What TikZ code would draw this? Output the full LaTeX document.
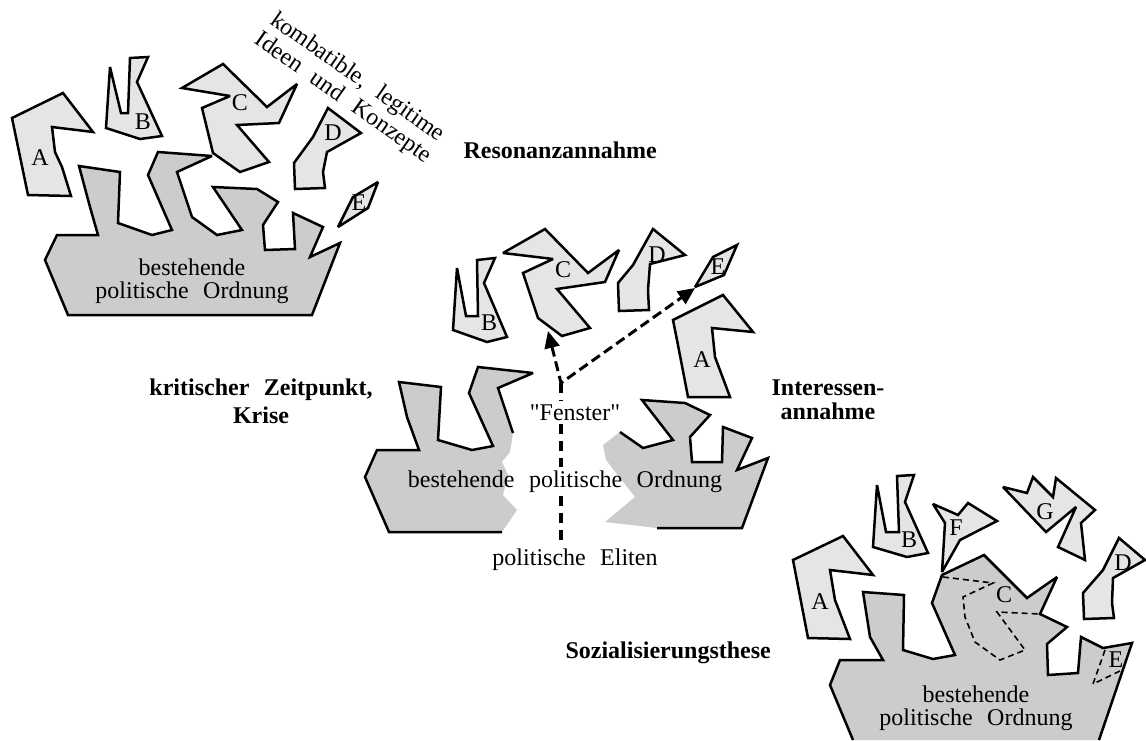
\documentclass[tikz,border=0pt]{standalone}
\usepackage{fontspec}
\setmainfont{Liberation Serif}[Ligatures=TeXOff]
\usetikzlibrary{arrows.meta}

\newcommand{\wsp}{\hspace{0.6em}}

\tikzset{
  stueck/.style={fill=black!10, draw=black, line width=2.5pt, miter limit=3},
  ordnung/.style={fill=black!20, draw=black, line width=2.5pt, miter limit=3},
  flaeche/.style={fill=black!20},
  rand/.style={draw=black, line width=2.5pt, miter limit=3},
  strich/.style={line width=3pt, dash pattern=on 10pt off 5pt},
  senkrecht/.style={line width=4pt, dash pattern=on 10pt off 7pt},
  kontur/.style={line width=1.6pt, dash pattern=on 6pt off 4pt},
  these/.style={font=\bfseries\fontsize{24}{24}\selectfont, align=center},
  buchst/.style={inner sep=0pt}
}

\begin{document}
\begin{tikzpicture}[x=1pt, y=-1pt, font=\fontsize{24}{23}\selectfont]

    \useasboundingbox (0,0) rectangle (1146,740);

    % Resonanzannahme (oben links)
    \filldraw[ordnung] (79,166) -- (120,172) -- (118,223) -- (152,235) -- (172,230) -- (148,175) -- (158,152) -- (212,156) -- (177,172) -- (192,217) -- (217,235) -- (242,230) -- (213,187) -- (257,189) -- (278,202) -- (263,225) -- (265,250) -- (295,249) -- (293,213) -- (323,227) -- (310,257) -- (340,243) -- (312,315) -- (68,315) -- (45,260) -- (57,235) -- (98,235) -- (90,207) -- cycle;
    \filldraw[stueck] (12,118) -- (63,93) -- (93,132) -- (52,127) -- (55,152) -- (62,167) -- (71,196) -- (28,195) -- cycle;
    \filldraw[stueck] (110,67) -- (121,113) -- (128,113) -- (130,58) -- (148,57) -- (137,82) -- (162,136) -- (140,139) -- (106,128) -- cycle;
    \filldraw[stueck] (182,88) -- (223,64) -- (267,107) -- (297,84) -- (279,123) -- (237,125) -- (269,162) -- (240,172) -- (213,153) -- (202,108) -- (230,96) -- cycle;
    \filldraw[stueck] (328,108) -- (361,133) -- (327,152) -- (323,172) -- (325,188) -- (295,189) -- (294,163) -- (313,137) -- cycle;
    \filldraw[stueck] (378,182) -- (368,208) -- (338,227) -- (353,197) -- cycle;
    \node[buchst] (a1) at (40,158) {A};
    \node[buchst] (b1) at (143,122) {B};
    \node[buchst] (c1) at (240,103) {C};
    \node[buchst] (d1) at (333,133) {D};
    \node[buchst] (e1) at (359,203) {E};
    \node[anchor=base, align=center] (ord1) at (192,298) {bestehende\\politische\wsp Ordnung};
    \node[rotate=-35, align=center] (ideen) at (350,88) {kombatible,\wsp legitime\\[2pt]Ideen\wsp und\wsp Konzepte};
    \node[these, anchor=base west] (reso) at (460,158) {Resonanzannahme};

    % Interessenannahme (Mitte)
    \fill[flaeche] (502,532) -- (389,532) -- (365,477) -- (377,450) -- (419,450) -- (407,417) -- (399,382) -- (441,387) -- (438,440) -- (472,450) -- (493,446) -- (469,393) -- (478,367) -- (533,373) -- (498,388) -- (513,433) -- (510,452) -- (502,462) -- (508,475) -- (503,495) -- (517,510) -- cycle;
    \draw[rand] (502,532) -- (389,532) -- (365,477) -- (377,450) -- (419,450) -- (407,417) -- (399,382) -- (441,387) -- (438,440) -- (472,450) -- (493,446) -- (469,393) -- (478,367) -- (533,373) -- (498,388) -- (513,433);
    \fill[flaeche] (657,528) -- (742,528) -- (768,458) -- (737,470) -- (752,438) -- (723,427) -- (722,462) -- (692,462) -- (690,437) -- (710,415) -- (685,403) -- (642,400) -- (673,440) -- (643,448) -- (620,432) -- (603,445) -- (606,460) -- (635,497) -- (605,522) -- cycle;
    \draw[rand] (657,528) -- (742,528) -- (768,458) -- (737,470) -- (752,438) -- (723,427) -- (722,462) -- (692,462) -- (690,437) -- (710,415) -- (685,403) -- (642,400) -- (673,440) -- (643,448) -- (620,432);
    \filldraw[stueck] (457,268) -- (466,316) -- (478,316) -- (477,260) -- (495,258) -- (484,283) -- (507,337) -- (487,342) -- (453,330) -- cycle;
    \filldraw[stueck] (503,253) -- (545,229) -- (588,273) -- (619,250) -- (605,282) -- (557,289) -- (590,328) -- (562,336) -- (538,318) -- (523,273) -- (553,259) -- cycle;
    \filldraw[stueck] (653,229) -- (685,255) -- (650,264) -- (648,290) -- (649,310) -- (619,311) -- (618,283) -- (633,265) -- cycle;
    \filldraw[stueck] (737,245) -- (724,275) -- (695,287) -- (713,257) -- cycle;
    \filldraw[stueck] (673,320) -- (723,295) -- (753,332) -- (712,328) -- (715,357) -- (730,397) -- (688,397) -- (677,340) -- cycle;
    \node[buchst] (b2) at (489,323) {B};
    \node[buchst] (c2) at (563,270) {C};
    \node[buchst] (d2) at (657,255) {D};
    \node[buchst] (e2) at (718,267) {E};
    \node[buchst] (a2) at (702,360) {A};
    \node[anchor=base] (fenster) at (575,420) {"Fenster"};
    \node[anchor=base] (ord2) at (565,487) {bestehende\wsp politische\wsp Ordnung};
    \node[anchor=base] (eliten) at (575,565) {politische\wsp Eliten};
    \node[these, anchor=base] (krise) at (261,423) {kritischer\wsp Zeitpunkt,\\[4pt]Krise};
    \node[these, anchor=base] (interesse) at (828,419) {Interessen-\\annahme};

    % Fenster und Pfeile
    \coordinate (win) at (561,383);
    \coordinate (zuC) at (548,331);
    \coordinate (zuE) at (695,288);
    \draw[strich, {Triangle[length=17pt,width=15pt]}-{Triangle[length=17pt,width=15pt]}] (zuC) -- (win) -- (zuE);
    \draw[senkrecht] (win) -- (fenster.north -| win);
    \draw[senkrecht] (fenster.south -| win) -- (ord2.north -| win);
    \draw[senkrecht] (ord2.south -| win) -- (eliten.north -| win);

    % Sozialisierungsthese (unten rechts)
    \fill[flaeche] (853,740) -- (830,685) -- (840,660) -- (883,660) -- (870,637) -- (863,592) -- (904,595) -- (903,650) -- (933,659) -- (955,655) -- (932,603) -- (942,575) -- (984,555) -- (1027,598) -- (1057,577) -- (1040,614) -- (1067,627) -- (1047,644) -- (1048,675) -- (1078,673) -- (1081,637) -- (1103,648) -- (1132,643) -- (1099,740) -- cycle;
    \draw[rand] (853,740) -- (830,685) -- (840,660) -- (883,660) -- (870,637) -- (863,592) -- (904,595) -- (903,650) -- (933,659) -- (955,655) -- (932,603) -- (942,575) -- (984,555) -- (1027,598) -- (1057,577) -- (1040,614) -- (1067,627) -- (1047,644) -- (1048,675) -- (1078,673) -- (1081,637) -- (1103,648) -- (1132,643) -- (1099,740);
    \draw[kontur] (943,577) -- (993,583) -- (963,597) -- (965,617) -- (975,642) -- (1000,660) -- (1025,650) -- (997,612) -- (1040,614);
    \draw[kontur] (1105,650) -- (1093,684) -- (1122,670);
    \filldraw[stueck] (793,560) -- (843,536) -- (873,575) -- (830,570) -- (835,600) -- (850,639) -- (808,638) -- cycle;
    \filldraw[stueck] (877,485) -- (886,532) -- (899,532) -- (897,476) -- (914,475) -- (905,502) -- (928,553) -- (907,557) -- (873,547) -- cycle;
    \filldraw[stueck] (933,504) -- (958,515) -- (968,503) -- (997,521) -- (960,540) -- (942,572) -- (945,523) -- cycle;
    \filldraw[stueck] (1003,487) -- (1027,493) -- (1033,477) -- (1053,497) -- (1056,478) -- (1095,510) -- (1081,523) -- (1085,560) -- (1058,547) -- (1076,507) -- (1046,532) -- cycle;
    \filldraw[stueck] (1119,538) -- (1145,560) -- (1113,578) -- (1112,603) -- (1114,618) -- (1084,619) -- (1083,593) -- (1103,570) -- cycle;
    \node[buchst] (a3) at (820,602) {A};
    \node[buchst] (b3) at (909,540) {B};
    \node[buchst] (f3) at (956,528) {F};
    \node[buchst] (g3) at (1045,512) {G};
    \node[buchst] (c3) at (1004,595) {C};
    \node[buchst] (d3) at (1123,563) {D};
    \node[buchst] (e3) at (1116,660) {E};
    \node[anchor=base, align=center] (ord3) at (976,725) {bestehende\\politische\wsp Ordnung};
    \node[these, anchor=base west] (sozial) at (562,658) {Sozialisierungsthese};

\end{tikzpicture}
\end{document}
